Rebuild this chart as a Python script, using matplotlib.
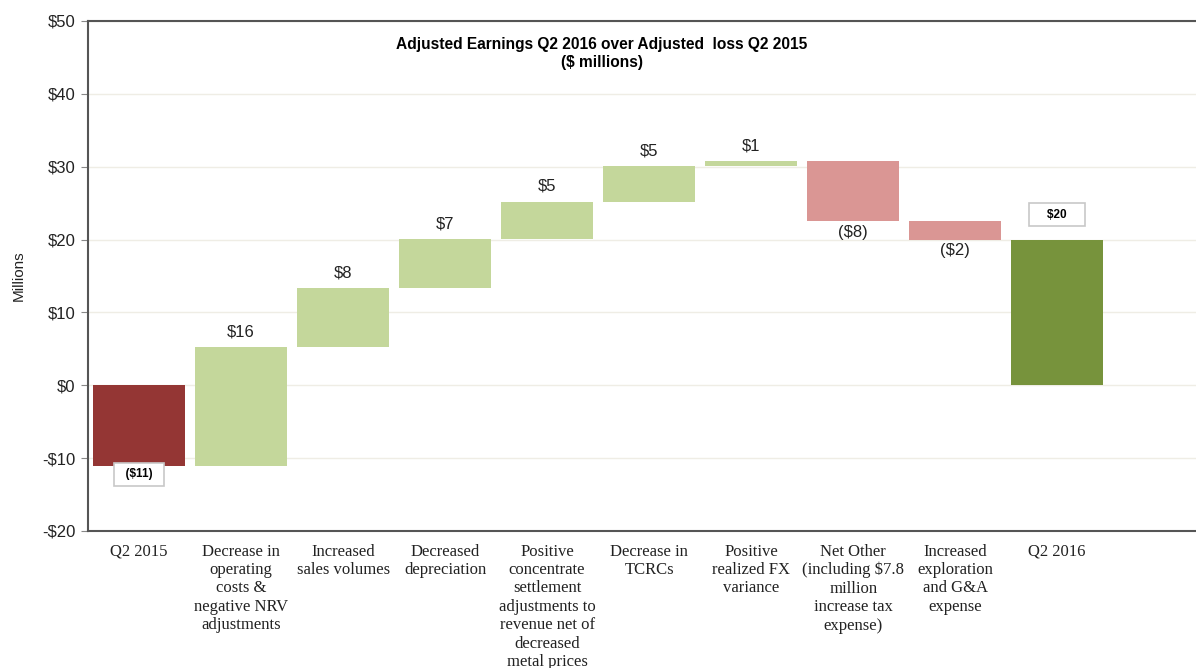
import matplotlib.pyplot as plt
import numpy as np

categories = ["Q2 2015",
              "Decrease in\noperating\ncosts &\nnegative NRV\nadjustments",
              "Increased\nsales volumes",
              "Decreased\ndepreciation",
              "Positive\nconcentrate\nsettlement\nadjustments to\nrevenue net of\ndecreased\nmetal prices",
              "Decrease in\nTCRCs",
              "Positive\nrealized FX\nvariance",
              "Net Other\n(including $7.8\nmillion\nincrease tax\nexpense)",
              "Increased\nexploration\nand G&A\nexpense",
              "Q2 2016"]
start_value = -11.1
changes = [16.3, 8.1, 6.8, 5.1, 4.9, 0.7, -8.3, -2.5]
labels = ["($11)", "$16", "$8", "$7", "$5", "$5", "$1", "($8)", "($2)", "$20"]
yticks = [-20, -10, 0, 10, 20, 30, 40, 50]

c_start = "#943634"
c_up = "#C4D79B"
c_down = "#DA9694"
c_end = "#77933C"

plt.rcParams['font.family'] = ['Liberation Sans', 'DejaVu Sans']

fig = plt.figure(figsize=(11.96, 6.68), dpi=100)
ax = fig.add_axes([88 / 1196, 137 / 668, 1108 / 1196, 510 / 668])

# waterfall bottoms / heights
cum = start_value + np.cumsum([0] + changes)
end_value = cum[-1]
bottoms = [0] + list(np.minimum(cum[:-1], cum[1:])) + [0]
heights = [start_value] + [abs(c) for c in changes] + [end_value]
colors = [c_start] + [c_up if c > 0 else c_down for c in changes] + [c_end]

x = np.arange(len(categories))
ax.bar(x, heights, bottom=bottoms, width=0.9, color=colors, zorder=2)

# value labels
for i, c in enumerate(changes):
    xi = i + 1
    if c > 0:
        top = max(cum[i], cum[i + 1])
        ax.annotate(labels[xi], (xi, top), xytext=(0, 11), textcoords="offset points",
                    ha="center", va="center", fontsize=12, color="#222222")
    else:
        bot = min(cum[i], cum[i + 1])
        ax.annotate(labels[xi], (xi, bot), xytext=(0, -8), textcoords="offset points",
                    ha="center", va="center", fontsize=12, color="#222222")

box = dict(boxstyle="square,pad=0.45", facecolor="white", edgecolor="#C8C8C8", lw=1.2)
ax.annotate("  " + labels[0] + "  ", (0, start_value), xytext=(0, -6), textcoords="offset points",
            ha="center", va="center", fontsize=8.5, fontweight="bold", bbox=box)
ax.annotate("    " + labels[-1] + "    ", (len(categories) - 1, end_value), xytext=(0, 18),
            textcoords="offset points",
            ha="center", va="center", fontsize=8.5, fontweight="bold", bbox=box)

ax.set_xlim(-0.5, 10.36)
ax.set_ylim(-20, 50)
ax.set_yticks(yticks)
ax.set_yticklabels([f"${v}" if v >= 0 else f"-${-v}" for v in yticks], fontsize=12, color="#222222")
ax.set_xticks(x)
ax.set_xticklabels(categories, family=['Liberation Serif', 'DejaVu Serif'], fontsize=12,
                   color="#222222", linespacing=1.2)
ax.tick_params(axis="x", length=0, pad=9)
ax.tick_params(axis="y", length=5, color="#888888", pad=4)

ax.yaxis.grid(True, color="#EFEDE5", lw=1, zorder=0)
ax.set_axisbelow(True)
for s in ["left", "top", "bottom"]:
    ax.spines[s].set_color("#555555")
    ax.spines[s].set_linewidth(1.5)
ax.spines["right"].set_visible(False)

ax.set_ylabel("Millions", fontsize=11, color="#222222", labelpad=12)

fig.text(602 / 1196, 1 - 45 / 668, "Adjusted Earnings Q2 2016 over Adjusted  loss Q2 2015",
         ha="center", va="center", fontsize=11.2, fontweight="bold")
fig.text(602 / 1196, 1 - 62 / 668, "($ millions)",
         ha="center", va="center", fontsize=11.2, fontweight="bold")

fig.savefig("out.png", dpi=100)
